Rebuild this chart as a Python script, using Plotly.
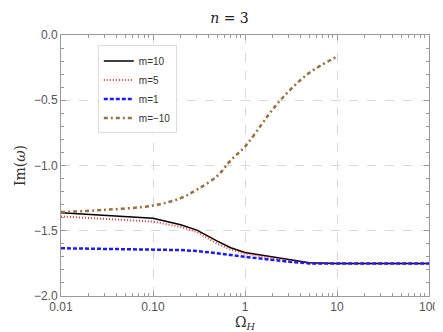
import plotly.graph_objects as go

# Omega_H values (log axis)
omega = [0.01, 0.1, 0.2, 0.3, 0.5, 0.7, 1, 2, 3, 5, 10, 20, 50, 100]

im_m10 = [-1.363, -1.405, -1.454, -1.495, -1.58, -1.63, -1.667, -1.70, -1.72, -1.745, -1.75, -1.75, -1.75, -1.75]
im_m5 = [-1.39, -1.43, -1.47, -1.51, -1.60, -1.645, -1.675, -1.71, -1.73, -1.75, -1.75, -1.75, -1.75, -1.75]
im_m1 = [-1.634, -1.642, -1.648, -1.655, -1.67, -1.685, -1.70, -1.725, -1.737, -1.75, -1.75, -1.75, -1.75, -1.75]

omega_neg = [0.01, 0.03, 0.1, 0.2, 0.3, 0.5, 0.7, 1, 1.5, 2, 3, 5, 10]
im_mneg10 = [-1.357, -1.34, -1.307, -1.25, -1.185, -1.08, -0.96, -0.855, -0.69, -0.57, -0.43, -0.29, -0.165]

x_ticks = [0.01, 0.1, 1, 10, 100]
x_ticktext = ["0.01", "0.10", "1", "10", "100"]
x_minor = [d * k for d in [0.01, 0.1, 1, 10] for k in range(2, 10)]
y_ticks = [0, -0.5, -1, -1.5, -2]
y_ticktext = ["0.0", "\u22120.5", "\u22121.0", "\u22121.5", "\u22122.0"]

fig = go.Figure()
fig.add_trace(go.Scatter(x=omega, y=im_m10, mode="lines", name="m=10",
                         line=dict(color="black", width=1.5)))
fig.add_trace(go.Scatter(x=omega, y=im_m5, mode="lines", name="m=5",
                         line=dict(color="#ff2a2a", width=2, dash="1px,2px")))
fig.add_trace(go.Scatter(x=omega, y=im_m1, mode="lines", name="m=1",
                         line=dict(color="#1a1aff", width=2.5, dash="4px,2px")))
fig.add_trace(go.Scatter(x=omega_neg, y=im_mneg10, mode="lines", name="m=\u221210",
                         line=dict(color="#a06e3c", width=2.5, dash="4px,3px,2px,3px"), line_shape="spline"))

axis_common = dict(
    showline=True, linecolor="#9a9a9a", linewidth=1, mirror="ticks",
    ticks="inside", tickcolor="#9a9a9a", ticklen=5,
    showgrid=True, gridcolor="#d9d9d9", griddash="dash", gridwidth=1,
    zeroline=False,
    tickfont=dict(family="Liberation Sans, Arial", size=12, color="#555555"),
)

fig.update_xaxes(type="log", range=[-2, 2],
                 tickvals=x_ticks, ticktext=x_ticktext,
                 minor=dict(ticks="inside", ticklen=3, tickcolor="#9a9a9a", tickvals=x_minor, showgrid=False),
                 title=dict(text="\u03a9<sub><i>H</i></sub>", font=dict(family="DejaVu Serif, serif", size=14, color="#333333"), standoff=2),
                 **axis_common)
fig.update_yaxes(range=[-2, 0], tickvals=y_ticks, ticktext=y_ticktext,
                 minor=dict(ticks="inside", ticklen=3, tickcolor="#9a9a9a", dtick=0.1, showgrid=False),
                 title=dict(text="Im(<i>\u03c9</i>)", font=dict(family="DejaVu Serif, serif", size=14, color="#333333"), standoff=4),
                 **axis_common)

fig.update_layout(
    width=443, height=332,
    margin=dict(l=46, r=12, t=27, b=44),
    paper_bgcolor="white", plot_bgcolor="white",
    title=dict(text="<i>n</i> = 3", x=0.5, xanchor="center", y=0.985, yanchor="top",
               font=dict(family="DejaVu Serif, serif", size=14, color="#222222")),
    legend=dict(x=0.1, y=0.96, xanchor="left", yanchor="top",
                bgcolor="white", bordercolor="#dddddd", borderwidth=1,
                font=dict(family="Liberation Sans, Arial", size=10, color="#333333"),
                tracegroupgap=8, itemwidth=30),
    showlegend=True,
)

fig.write_html("out.html")
